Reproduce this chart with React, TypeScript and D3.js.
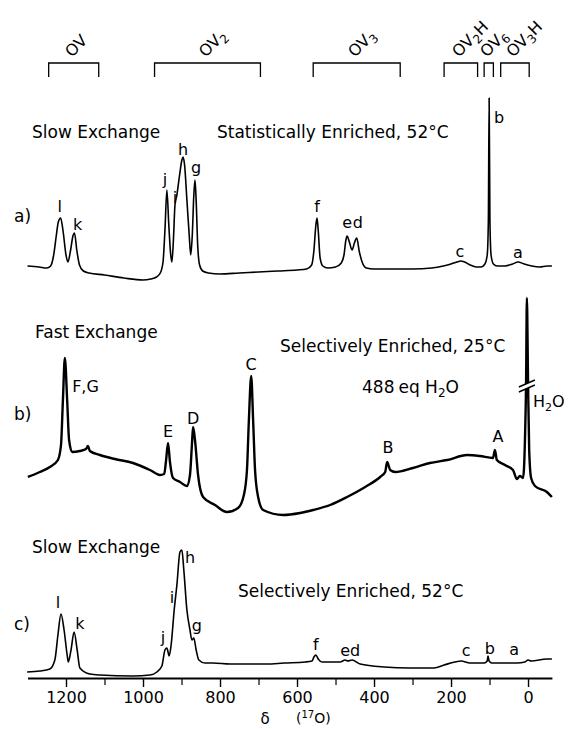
import React, { useRef, useEffect } from 'react';
import * as d3 from 'd3';

// chemical shift axis (ppm) and intensities
const PPM_A = [1300, 1270, 1250, 1240, 1232, 1225, 1220, 1214, 1208, 1200, 1195, 1188, 1182, 1178, 1172, 1165, 1155, 1140, 1100, 1050, 1000, 980, 965, 955, 948, 943, 938, 933, 928, 925, 921, 917, 912, 905, 899, 896, 892, 886, 880, 876, 872, 868, 865, 862, 858, 853, 845, 830, 800, 750, 700, 650, 600, 575, 562, 556, 551, 548, 545, 540, 533, 520, 500, 485, 478, 473, 470, 464, 457, 451, 445, 438, 430, 420, 400, 350, 300, 250, 220, 200, 185, 175, 165, 150, 135, 122, 112, 106, 103, 101, 99, 96, 90, 80, 60, 40, 26, 10, -10, -30, -50, -62];
const INT_A = [14, 13, 12, 14, 25, 45, 58, 62, 50, 25, 18, 30, 44, 47, 30, 15, 9, 7, 5, 2, 0, 1, 3, 7, 18, 50, 90, 55, 25, 18, 40, 75, 85, 105, 120, 123, 115, 80, 45, 25, 45, 85, 100, 80, 35, 15, 9, 7, 6, 7, 8, 9, 10, 11, 15, 30, 55, 62, 50, 22, 14, 12, 13, 17, 25, 40, 44, 38, 30, 37, 42, 28, 17, 12, 11, 11, 11, 12, 14, 16, 18, 19, 18, 15, 13, 13, 16, 25, 60, 182, 60, 25, 16, 14, 14, 16, 18, 16, 14, 13, 14, 14];

const PPM_B = [1299, 1268, 1242, 1221, 1213, 1208, 1203, 1197, 1192, 1184, 1164, 1148, 1143, 1138, 1112, 1073, 1026, 982, 956, 945, 940, 935, 930, 922, 904, 886, 878, 873, 870, 865, 857, 844, 813, 782, 753, 738, 730, 725, 719, 714, 709, 701, 688, 636, 592, 558, 514, 470, 423, 384, 371, 366, 358, 345, 299, 255, 210, 158, 125, 91, 86, 81, 60, 39, 29, 21, 13, 8, 5, 3, 0, -3, -8, -18, -49, -62];
const INT_B = [43, 48, 53, 60, 75, 120, 162, 120, 80, 68, 69, 71, 74, 69, 65, 61, 57, 50, 45, 46, 60, 77, 58, 42, 38, 34, 45, 75, 93, 80, 45, 23, 15, 8, 12, 25, 50, 100, 144, 100, 50, 23, 10, 5, 7, 10, 15, 23, 33, 43, 48, 58, 50, 48, 52, 57, 60, 65, 64, 62, 70, 60, 55, 50, 41, 44, 42, 80, 140, 222, 140, 70, 42, 34, 28, 23];

const PPM_C = [1301, 1268, 1242, 1229, 1221, 1213, 1205, 1197, 1194, 1187, 1179, 1171, 1164, 1138, 1112, 1026, 982, 964, 951, 943, 938, 932, 927, 919, 912, 904, 899, 894, 886, 878, 873, 868, 862, 855, 839, 818, 774, 678, 634, 579, 561, 556, 551, 545, 535, 488, 475, 468, 457, 436, 374, 306, 244, 218, 190, 174, 151, 114, 106, 104, 101, 94, 60, 29, 8, 0, -8, -49, -62];
const INT_C = [4, 5, 7, 16, 41, 62, 46, 21, 14, 26, 44, 26, 8, 2, 1, 0, 1, 4, 10, 26, 28, 20, 31, 66, 91, 124, 126, 106, 66, 46, 36, 38, 26, 16, 13, 13, 12, 12, 13, 14, 15, 19, 21, 17, 14, 14, 16, 15, 16, 12, 9, 8, 8, 11, 14, 15, 13, 13, 15, 20, 15, 13, 13, 13, 14, 16, 15, 17, 17];

// peak labels: text, ppm, intensity of the label baseline
const LABELS_A = ['l', 'k', 'j', 'i', 'h', 'g', 'f', 'e', 'd', 'c', 'b', 'a'];
const LABEL_PPM_A = [1216, 1170, 943, 917, 896, 862, 548, 470, 442, 177, 75, 26];
const LABEL_INT_A = [68, 50, 95, 77, 125, 107, 68, 52, 52, 23, 157, 22];

const LABELS_B = ['F,G', 'E', 'D', 'C', 'B', 'A'];
const LABEL_PPM_B = [1184, 935, 870, 719, 364, 78];
const LABEL_INT_B = [128, 83, 96, 150, 67, 78];

const LABELS_C = ['l', 'k', 'j', 'i', 'h', 'g', 'f', 'e', 'd', 'c', 'b', 'a'];
const LABEL_PPM_C = [1221, 1164, 948, 925, 878, 860, 551, 475, 449, 161, 99, 36];
const LABEL_INT_C = [68, 47, 33, 73, 113, 45, 26, 20, 20, 20, 22, 21];

// structural region brackets
const BRACKET_MAIN = ['OV', 'OV', 'OV', 'OV', 'OV', 'OV'];
const BRACKET_SUB = ['', '2', '3', '2', '6', '3'];
const BRACKET_TAIL = ['', '', '', 'H', '', 'H'];
const BRACKET_FROM = [1245, 970, 558, 218, 114, 71];
const BRACKET_TO = [1115, 695, 332, 131, 90, -3];

const MAJOR_TICKS = [1200, 1000, 800, 600, 400, 200, 0];
const MINOR_TICKS = [1100, 900, 700, 500, 300, 100];

const FONT = "'DejaVu Sans', sans-serif";

const App = () => {
    const svgRef = useRef<SVGSVGElement>(null);

    useEffect(() => {
        const svg = d3.select(svgRef.current);
        svg.selectAll('*').remove();

        const x = d3.scaleLinear().domain([1300, -62]).range([27.5, 551.9]);
        // one px per intensity unit, each trace has its own zero line
        const yA = d3.scaleLinear().domain([0, 100]).range([280, 180]);
        const yB = d3.scaleLinear().domain([0, 100]).range([520, 420]);
        const yC = d3.scaleLinear().domain([0, 100]).range([676, 576]);

        const g = svg.append('g').style('font-family', FONT);

        const drawTrace = (ppm, ints, y, width) => {
            const line = d3.line<number>()
                .x((_, i) => x(ppm[i]))
                .y(d => y(d))
                .curve(d3.curveMonotoneX);
            g.append('path')
                .attr('d', line(ints))
                .attr('fill', 'none')
                .attr('stroke', '#000')
                .attr('stroke-width', width)
                .attr('stroke-linejoin', 'round');
        };
        drawTrace(PPM_A, INT_A, yA, 1.6);
        drawTrace(PPM_B, INT_B, yB, 2.4);
        drawTrace(PPM_C, INT_C, yC, 1.6);

        const drawLabels = (labels, ppm, ints, y) => {
            g.selectAll(null)
                .data(labels)
                .enter().append('text')
                .attr('x', (_, i) => x(ppm[i]))
                .attr('y', (_, i) => y(ints[i]))
                .attr('text-anchor', d => (d.length > 1 ? 'start' : 'middle'))
                .attr('font-size', 16)
                .text(d => d);
        };
        drawLabels(LABELS_A, LABEL_PPM_A, LABEL_INT_A, yA);
        drawLabels(LABELS_B, LABEL_PPM_B, LABEL_INT_B, yB);
        drawLabels(LABELS_C, LABEL_PPM_C, LABEL_INT_C, yC);

        // H2O label next to the water peak
        const h2o = g.append('text')
            .attr('x', x(-13)).attr('y', yB(113)).attr('font-size', 16);
        h2o.append('tspan').text('H');
        h2o.append('tspan').attr('font-size', 11).attr('dy', 4).text('2');
        h2o.append('tspan').attr('dy', -4).text('O');

        // break mark on the water peak
        const bx = x(3), by = yB(136);
        g.append('path')
            .attr('d', `M${bx - 8},${by + 3} L${bx + 8},${by - 4} L${bx + 8},${by + 1} L${bx - 8},${by + 8} Z`)
            .attr('fill', '#fff');
        g.append('path')
            .attr('d', `M${bx - 8},${by + 3} L${bx + 8},${by - 4} M${bx - 8},${by + 8} L${bx + 8},${by + 1}`)
            .attr('stroke', '#000').attr('stroke-width', 1.4);

        // brackets
        BRACKET_FROM.forEach((from, i) => {
            const x0 = x(from), x1 = x(BRACKET_TO[i]);
            g.append('path')
                .attr('d', `M${x0},77 V63 H${x1} V77`)
                .attr('fill', 'none').attr('stroke', '#000').attr('stroke-width', 1.3);
            const cx = (x0 + x1) / 2;
            const t = g.append('text')
                .attr('transform', `translate(${cx - 2},${58}) rotate(-45)`)
                .attr('font-size', 16);
            t.append('tspan').text(BRACKET_MAIN[i]);
            if (BRACKET_SUB[i]) t.append('tspan').attr('font-size', 12).attr('dy', 4).text(BRACKET_SUB[i]);
            if (BRACKET_TAIL[i]) t.append('tspan').attr('dy', -4).text(BRACKET_TAIL[i]);
        });

        // titles
        const titles = [
            ['Slow Exchange', 32, 138], ['Statistically Enriched, 52°C', 217, 138], ['a)', 14, 222],
            ['Fast Exchange', 35, 338], ['Selectively Enriched, 25°C', 280, 352], ['b)', 14, 420],
            ['Slow Exchange', 32, 553], ['Selectively Enriched, 52°C', 238, 597], ['c)', 14, 630]
        ];
        titles.forEach(([txt, tx, ty]) => {
            g.append('text').attr('x', tx).attr('y', ty).attr('font-size', 17).text(txt as string);
        });
        const eq = g.append('text').attr('x', 362).attr('y', 393).attr('font-size', 17);
        eq.append('tspan').text('488');
        eq.append('tspan').attr('dx', 4).text('eq H');
        eq.append('tspan').attr('font-size', 12).attr('dy', 4).text('2');
        eq.append('tspan').attr('dy', -4).text('O');

        // bottom axis
        const axis = g.append('g').attr('transform', 'translate(0,678)');
        axis.call(d3.axisBottom(x).tickValues(MAJOR_TICKS).tickSize(9).tickSizeOuter(0).tickPadding(5).tickFormat(d3.format('d')));
        axis.select('.domain').attr('stroke-width', 2.2);
        axis.selectAll('.tick line').attr('stroke-width', 1.4);
        axis.selectAll('.tick text').attr('font-size', 16).attr('font-family', FONT).attr('fill', '#000');
        const minor = g.append('g').attr('transform', 'translate(0,678)');
        minor.call(d3.axisBottom(x).tickValues(MINOR_TICKS).tickSize(7).tickFormat(() => ''));
        minor.select('.domain').remove();
        minor.selectAll('.tick line').attr('stroke-width', 1.2);

        g.append('text').attr('x', 265).attr('y', 724).attr('text-anchor', 'middle').attr('font-size', 15).text('δ');
        const unit = g.append('text').attr('x', 296).attr('y', 723).attr('font-size', 14);
        unit.append('tspan').text('(');
        unit.append('tspan').attr('font-size', 10).attr('dy', -5).text('17');
        unit.append('tspan').attr('dy', 5).text('O)');
    }, []);

    return (
        <div style={{ position: 'absolute', left: 0, top: 0, background: '#fff' }}>
            <svg ref={svgRef} width={568} height={729} style={{ display: 'block' }}></svg>
        </div>
    );
};

export default App;
